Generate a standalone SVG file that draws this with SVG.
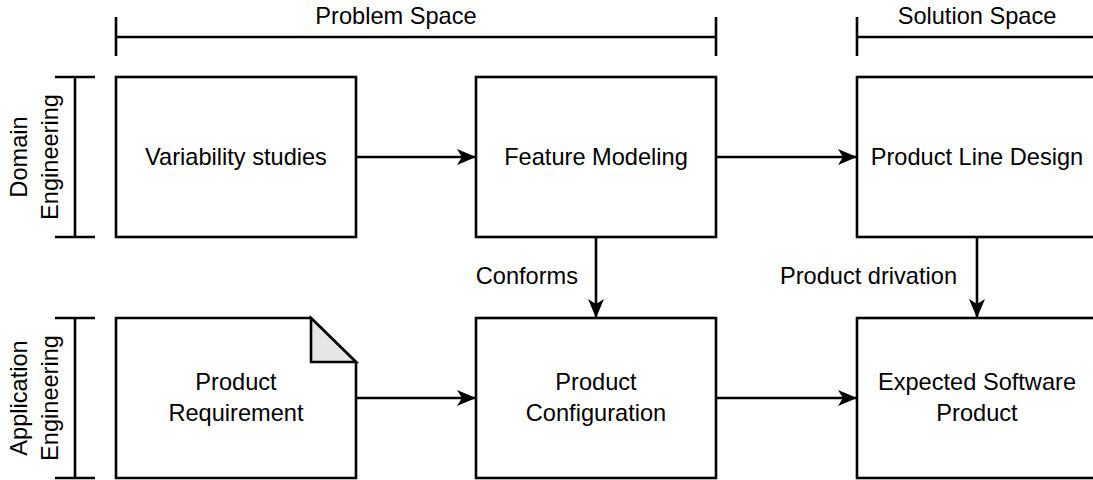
<svg xmlns="http://www.w3.org/2000/svg" width="1093" height="480" viewBox="0 0 1093 480">
<style>
.b{fill:#fff;stroke:#000;stroke-width:2.6}
.l{fill:none;stroke:#000;stroke-width:2.6}
text{font-family:"Liberation Sans",Arial,sans-serif;font-size:23.6px;fill:#000;text-anchor:middle}
</style>
<defs>
<marker id="ah" viewBox="0 0 20 20" refX="18" refY="10" markerWidth="20" markerHeight="20" markerUnits="userSpaceOnUse" orient="auto">
<path d="M0,2 L19,10 L0,18 L5,10 Z" fill="#000"/>
</marker>
</defs>
<rect width="1093" height="480" fill="#fff"/>
<g id="brackets">
<path class="l" d="M116,17 V56 M116,37 H716 M716,17 V56"/>
<path class="l" d="M857,17 V56 M857,37 H1100"/>
<path class="l" d="M55,77 H95 M75,77 V237 M55,237 H95"/>
<path class="l" d="M55,318 H95 M75,318 V478 M55,478 H95"/>
<text x="396" y="24">Problem Space</text>
<text x="977" y="24">Solution Space</text>
<text transform="translate(27,157) rotate(-90)">Domain</text>
<text transform="translate(58,157) rotate(-90)">Engineering</text>
<text transform="translate(27,398) rotate(-90)">Application</text>
<text transform="translate(58,398) rotate(-90)">Engineering</text>
</g>
<g id="connectors">
<path class="l" d="M356,157 H475" marker-end="url(#ah)"/>
<path class="l" d="M716,157 H856" marker-end="url(#ah)"/>
<path class="l" d="M596,237 V317" marker-end="url(#ah)"/>
<path class="l" d="M977,237 V317" marker-end="url(#ah)"/>
<path class="l" d="M356,398 H475" marker-end="url(#ah)"/>
<path class="l" d="M716,398 H856" marker-end="url(#ah)"/>
<text x="578" y="284" style="text-anchor:end">Conforms</text>
<text x="957" y="284" style="text-anchor:end">Product drivation</text>
</g>
<g id="n1">
<rect class="b" x="116" y="77" width="240" height="160"/>
<text x="236" y="165">Variability studies</text>
</g>
<g id="n2">
<rect class="b" x="476" y="77" width="240" height="160"/>
<text x="596" y="165">Feature Modeling</text>
</g>
<g id="n3">
<rect class="b" x="857" y="77" width="240" height="160"/>
<text x="977" y="165">Product Line Design</text>
</g>
<g id="n4">
<path class="b" d="M116,318 H311 L356,362 V478 H116 Z"/>
<path d="M311,318 V362 H356 Z" fill="#e6e6e6" stroke="#000" stroke-width="2.6" stroke-linejoin="miter"/>
<text x="236" y="390">Product</text>
<text x="236" y="421">Requirement</text>
</g>
<g id="n5">
<rect class="b" x="476" y="318" width="240" height="160"/>
<text x="596" y="390">Product</text>
<text x="596" y="421">Configuration</text>
</g>
<g id="n6">
<rect class="b" x="857" y="318" width="240" height="160"/>
<text x="977" y="390">Expected Software</text>
<text x="977" y="421">Product</text>
</g>
</svg>
